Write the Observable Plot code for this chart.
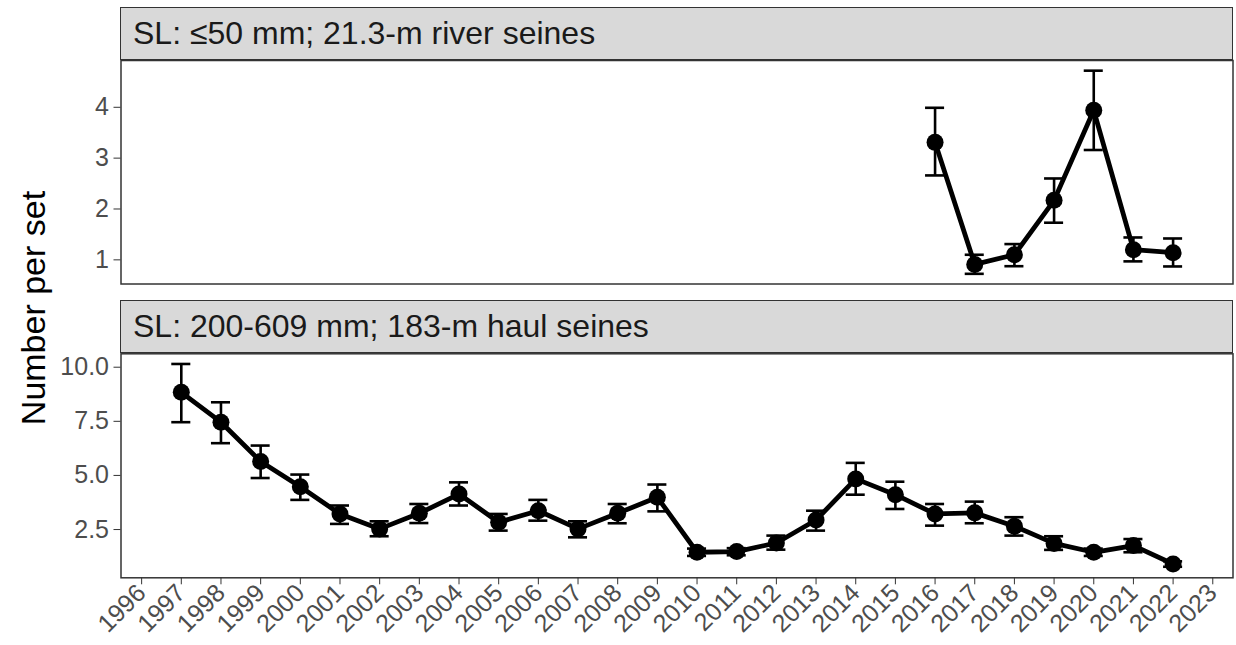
<!DOCTYPE html>
<html>
<head>
<meta charset="utf-8">
<script src="https://cdn.jsdelivr.net/npm/d3@7"></script>
<script src="https://cdn.jsdelivr.net/npm/@observablehq/plot@0.6"></script>
<style>
  html, body { margin: 0; padding: 0; background: #fff; }
  #wrap { position: relative; width: 1236px; height: 645px; overflow: hidden; font-family: "Liberation Sans", Arial, sans-serif; }
  .strip { position: absolute; left: 120px; width: 1111px; height: 51px; background: #d9d9d9; border: 1.5px solid #333; display: flex; align-items: center; box-sizing: content-box; }
  .strip span { margin-left: 12px; font-size: 32px; color: #1a1a1a; white-space: nowrap; }
  .panel { position: absolute; left: 0; }
  #ylab { position: absolute; left: 33px; top: 308px; transform: translate(-50%, -50%) rotate(-90deg); font-size: 34px; color: #000; white-space: nowrap; }
</style>
</head>
<body>
<div id="wrap">
  <div class="strip" style="top:7px"><span id="s1"></span></div>
  <div class="strip" style="top:300px"><span id="s2"></span></div>
  <div id="p1" class="panel" style="top:0px"></div>
  <div id="p2" class="panel" style="top:290px"></div>
  <div id="ylab"></div>
</div>
<script>
// ---- Data ----
const stripLabels = ["SL: \u226450 mm; 21.3-m river seines", "SL: 200-609 mm; 183-m haul seines"];
const yTitle = "Number per set";

const topYears = [2016, 2017, 2018, 2019, 2020, 2021, 2022];
const topMean  = [3.31, 0.91, 1.10, 2.17, 3.94, 1.20, 1.14];
const topLo    = [2.66, 0.725, 0.875, 1.73, 3.16, 0.97, 0.87];
const topHi    = [3.99, 1.10, 1.31, 2.60, 4.72, 1.44, 1.42];

const botYears = [1997, 1998, 1999, 2000, 2001, 2002, 2003, 2004, 2005, 2006, 2007, 2008, 2009,
                  2010, 2011, 2012, 2013, 2014, 2015, 2016, 2017, 2018, 2019, 2020, 2021, 2022];
const botMean  = [8.84, 7.46, 5.64, 4.48, 3.22, 2.53, 3.25, 4.14, 2.84, 3.37, 2.53, 3.25, 3.99,
                  1.45, 1.48, 1.88, 2.94, 4.84, 4.11, 3.22, 3.27, 2.65, 1.86, 1.45, 1.76, 0.91];
const botLo    = [7.46, 6.49, 4.88, 3.87, 2.76, 2.19, 2.80, 3.61, 2.45, 2.91, 2.14, 2.79, 3.34,
                  1.28, 1.31, 1.57, 2.45, 4.11, 3.45, 2.68, 2.79, 2.22, 1.56, 1.28, 1.45, 0.78];
const botHi    = [10.15, 8.38, 6.38, 5.04, 3.61, 2.88, 3.68, 4.68, 3.22, 3.87, 2.88, 3.68, 4.58,
                  1.62, 1.64, 2.22, 3.37, 5.58, 4.71, 3.68, 3.79, 3.07, 2.19, 1.62, 2.06, 1.03];

const xTicks = d3.range(1996, 2024);
const topYTicks = [1, 2, 3, 4];
const botYTicks = [2.5, 5.0, 7.5, 10.0];

// ---- Build ----
const topData = topYears.map((y, i) => ({year: y, mean: topMean[i], lo: topLo[i], hi: topHi[i]}));
const botData = botYears.map((y, i) => ({year: y, mean: botMean[i], lo: botLo[i], hi: botHi[i]}));

document.getElementById("s1").textContent = stripLabels[0];
document.getElementById("s2").textContent = stripLabels[1];
document.getElementById("ylab").textContent = yTitle;

const font = "Liberation Sans, Arial, sans-serif";
const xDomain = [1995.48, 2023.51];
const capHalf = 0.24;

function seriesMarks(data) {
  return [
    Plot.ruleX(data, {x: "year", y1: "lo", y2: "hi", stroke: "#000", strokeWidth: 2.6}),
    Plot.ruleY(data, {y: "hi", x1: d => d.year - capHalf, x2: d => d.year + capHalf, stroke: "#000", strokeWidth: 2.6}),
    Plot.ruleY(data, {y: "lo", x1: d => d.year - capHalf, x2: d => d.year + capHalf, stroke: "#000", strokeWidth: 2.6}),
    Plot.line(data, {x: "year", y: "mean", stroke: "#000", strokeWidth: 4.8, strokeLinejoin: "round"}),
    Plot.dot(data, {x: "year", y: "mean", r: 8.5, fill: "#000", stroke: "none"})
  ];
}

const p1 = Plot.plot({
  width: 1236, height: 290,
  marginLeft: 120.5, marginRight: 3.5, marginTop: 60, marginBottom: 6.5,
  style: {fontFamily: font, background: "transparent", overflow: "visible"},
  x: {domain: xDomain, axis: null},
  y: {domain: [0.525, 4.92]},
  marks: [
    Plot.axisY({ticks: topYTicks, tickSize: 7, tickPadding: 5, fontSize: 25, stroke: "#333", fill: "#4d4d4d", label: null, tickFormat: d3.format("d")}),
    ...seriesMarks(topData),
    Plot.frame({stroke: "#333", strokeWidth: 1.5})
  ]
});
document.getElementById("p1").appendChild(p1);

const p2 = Plot.plot({
  width: 1236, height: 355,
  marginLeft: 120.5, marginRight: 3.5, marginTop: 63.3, marginBottom: 67.7,
  style: {fontFamily: font, background: "transparent", overflow: "visible"},
  x: {domain: xDomain},
  y: {domain: [0.27, 10.62]},
  marks: [
    Plot.axisY({ticks: botYTicks, tickSize: 7, tickPadding: 5, fontSize: 25, stroke: "#333", fill: "#4d4d4d", label: null, tickFormat: d3.format(".1f")}),
    Plot.axisX({ticks: xTicks, tickSize: 7, tickPadding: 4, tickRotate: -45, fontSize: 25, stroke: "#333", fill: "#4d4d4d", label: null, tickFormat: d3.format("d")}),
    ...seriesMarks(botData),
    Plot.frame({stroke: "#333", strokeWidth: 1.5})
  ]
});
document.getElementById("p2").appendChild(p2);
</script>
</body>
</html>
